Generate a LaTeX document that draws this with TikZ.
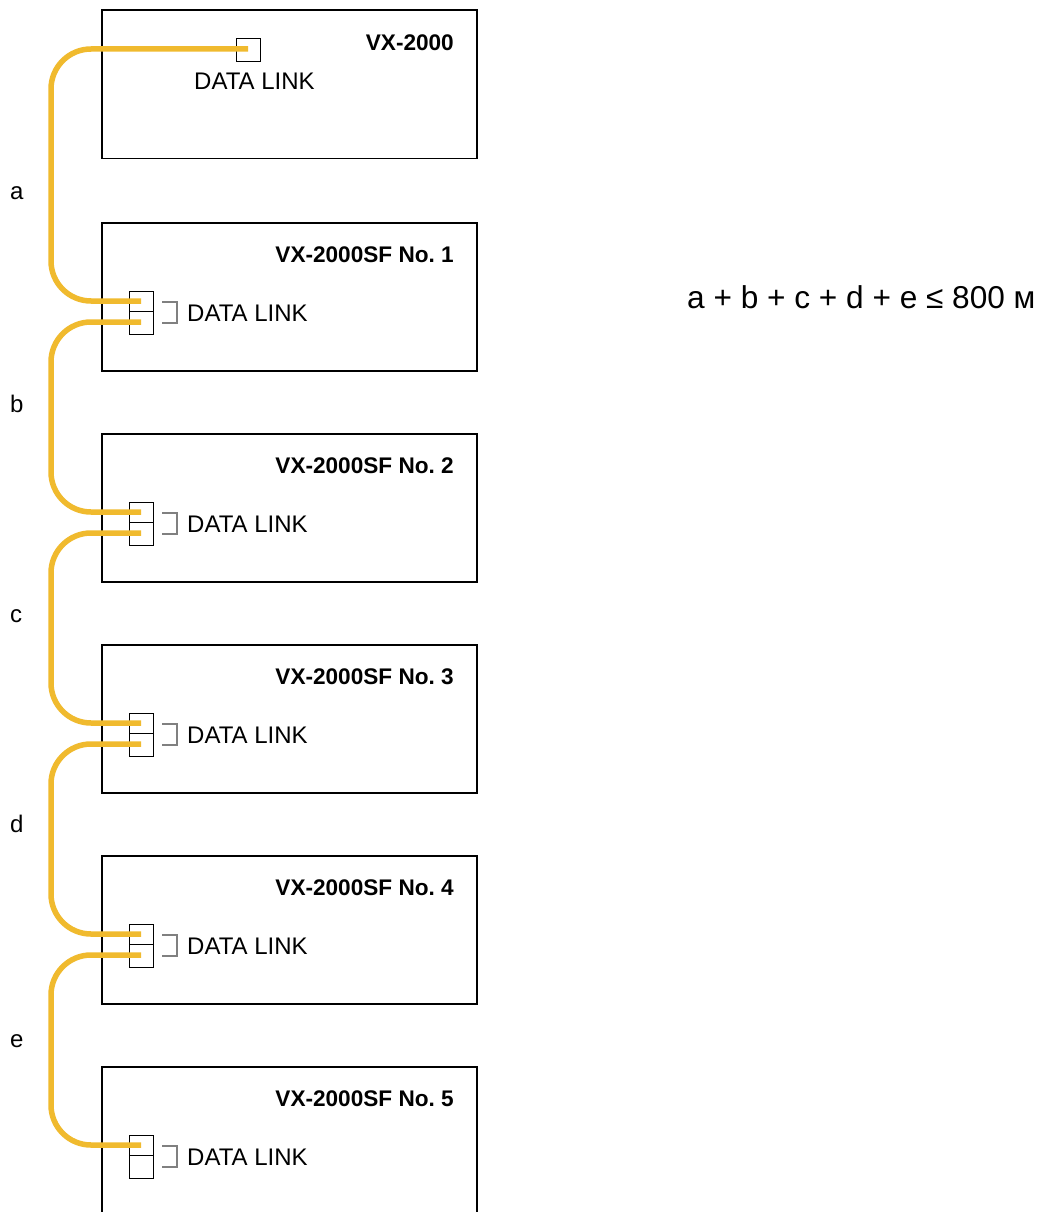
\documentclass[tikz,border=0pt]{standalone}
\usepackage{fontspec}
\setmainfont{Liberation Sans}
\definecolor{cablecol}{HTML}{F0BA2E}
\definecolor{brkcol}{HTML}{808080}
\begin{document}
\frenchspacing
\begin{tikzpicture}[x=1pt,y=-1pt,
  unitbox/.style={draw,line width=1.6pt,minimum width=375pt,minimum height=148pt,inner sep=0pt,anchor=north west},
  portbox/.style={draw,line width=1.3pt,minimum width=24pt,minimum height=43pt,inner sep=0pt,anchor=north west},
  singleport/.style={draw,line width=1.3pt,minimum width=24pt,minimum height=23pt,inner sep=0pt,anchor=north west},
  cable/.style={draw=cablecol,line width=5.5pt,rounded corners=40pt},
  titletext/.style={font=\fontsize{22.6}{27}\selectfont\bfseries,anchor=base east,inner sep=0pt},
  linktext/.style={font=\fontsize{24}{28}\selectfont,anchor=base west,inner sep=0pt},
  lbltext/.style={font=\fontsize{24}{28}\selectfont,anchor=base west,inner sep=0pt},
  bracket/.style={draw=brkcol,line width=1.2pt}]
\useasboundingbox (0,0) rectangle (1042,1212);
\clip (0,0) rectangle (1042,1212);
\fill[white] (0,0) rectangle (1042,1212);
\coordinate (bus) at (51,0);
% top unit
\node[unitbox] (u0) at (101,9.5) {};
\node[titletext] (t0) at (454,50.5) {VX-2000};
\node[singleport] (p0) at (236,38) {};
\coordinate (o0) at (248,49);
\node[linktext] (dl0) at (194,90) {DATA LINK};
% sub units
\foreach \k/\top in {1/222,2/433,3/644,4/855,5/1066}{
  \node[unitbox] (u\k) at (101,\top) {};
  \node[titletext] (t\k) at (454,\top+40.5) {VX-2000SF No.\ \k};
  \node[portbox] (p\k) at (129,\top+69) {};
  \draw[line width=1.3pt] (p\k.west |- 0,\top+89.5) -- (p\k.east |- 0,\top+89.5);
  \coordinate (i\k) at (141,\top+79);
  \coordinate (o\k) at (141,\top+100);
  \draw[bracket] (162,\top+80) -- (177,\top+80) -- (177,\top+101) -- (162,\top+101);
  \node[linktext] (dl\k) at (187,\top+99) {DATA LINK};
}
% cables
\draw[cable] (o0) -| (bus |- i1) -- (i1);
\draw[cable] (o1) -| (bus |- i2) -- (i2);
\draw[cable] (o2) -| (bus |- i3) -- (i3);
\draw[cable] (o3) -| (bus |- i4) -- (i4);
\draw[cable] (o4) -| (bus |- i5) -- (i5);
% labels
\node[lbltext] (la) at (10,199) {a};
\node[lbltext] (lb) at (10,412) {b};
\node[lbltext] (lc) at (10,622) {c};
\node[lbltext] (ld) at (10,832) {d};
\node[lbltext] (le) at (10,1047) {e};
% formula
\node[font=\fontsize{31.6}{37}\selectfont,anchor=base west,inner sep=0pt] (formula) at (687,308) {a + b + c + d + e ≤ 800 м};
\end{tikzpicture}
\end{document}
